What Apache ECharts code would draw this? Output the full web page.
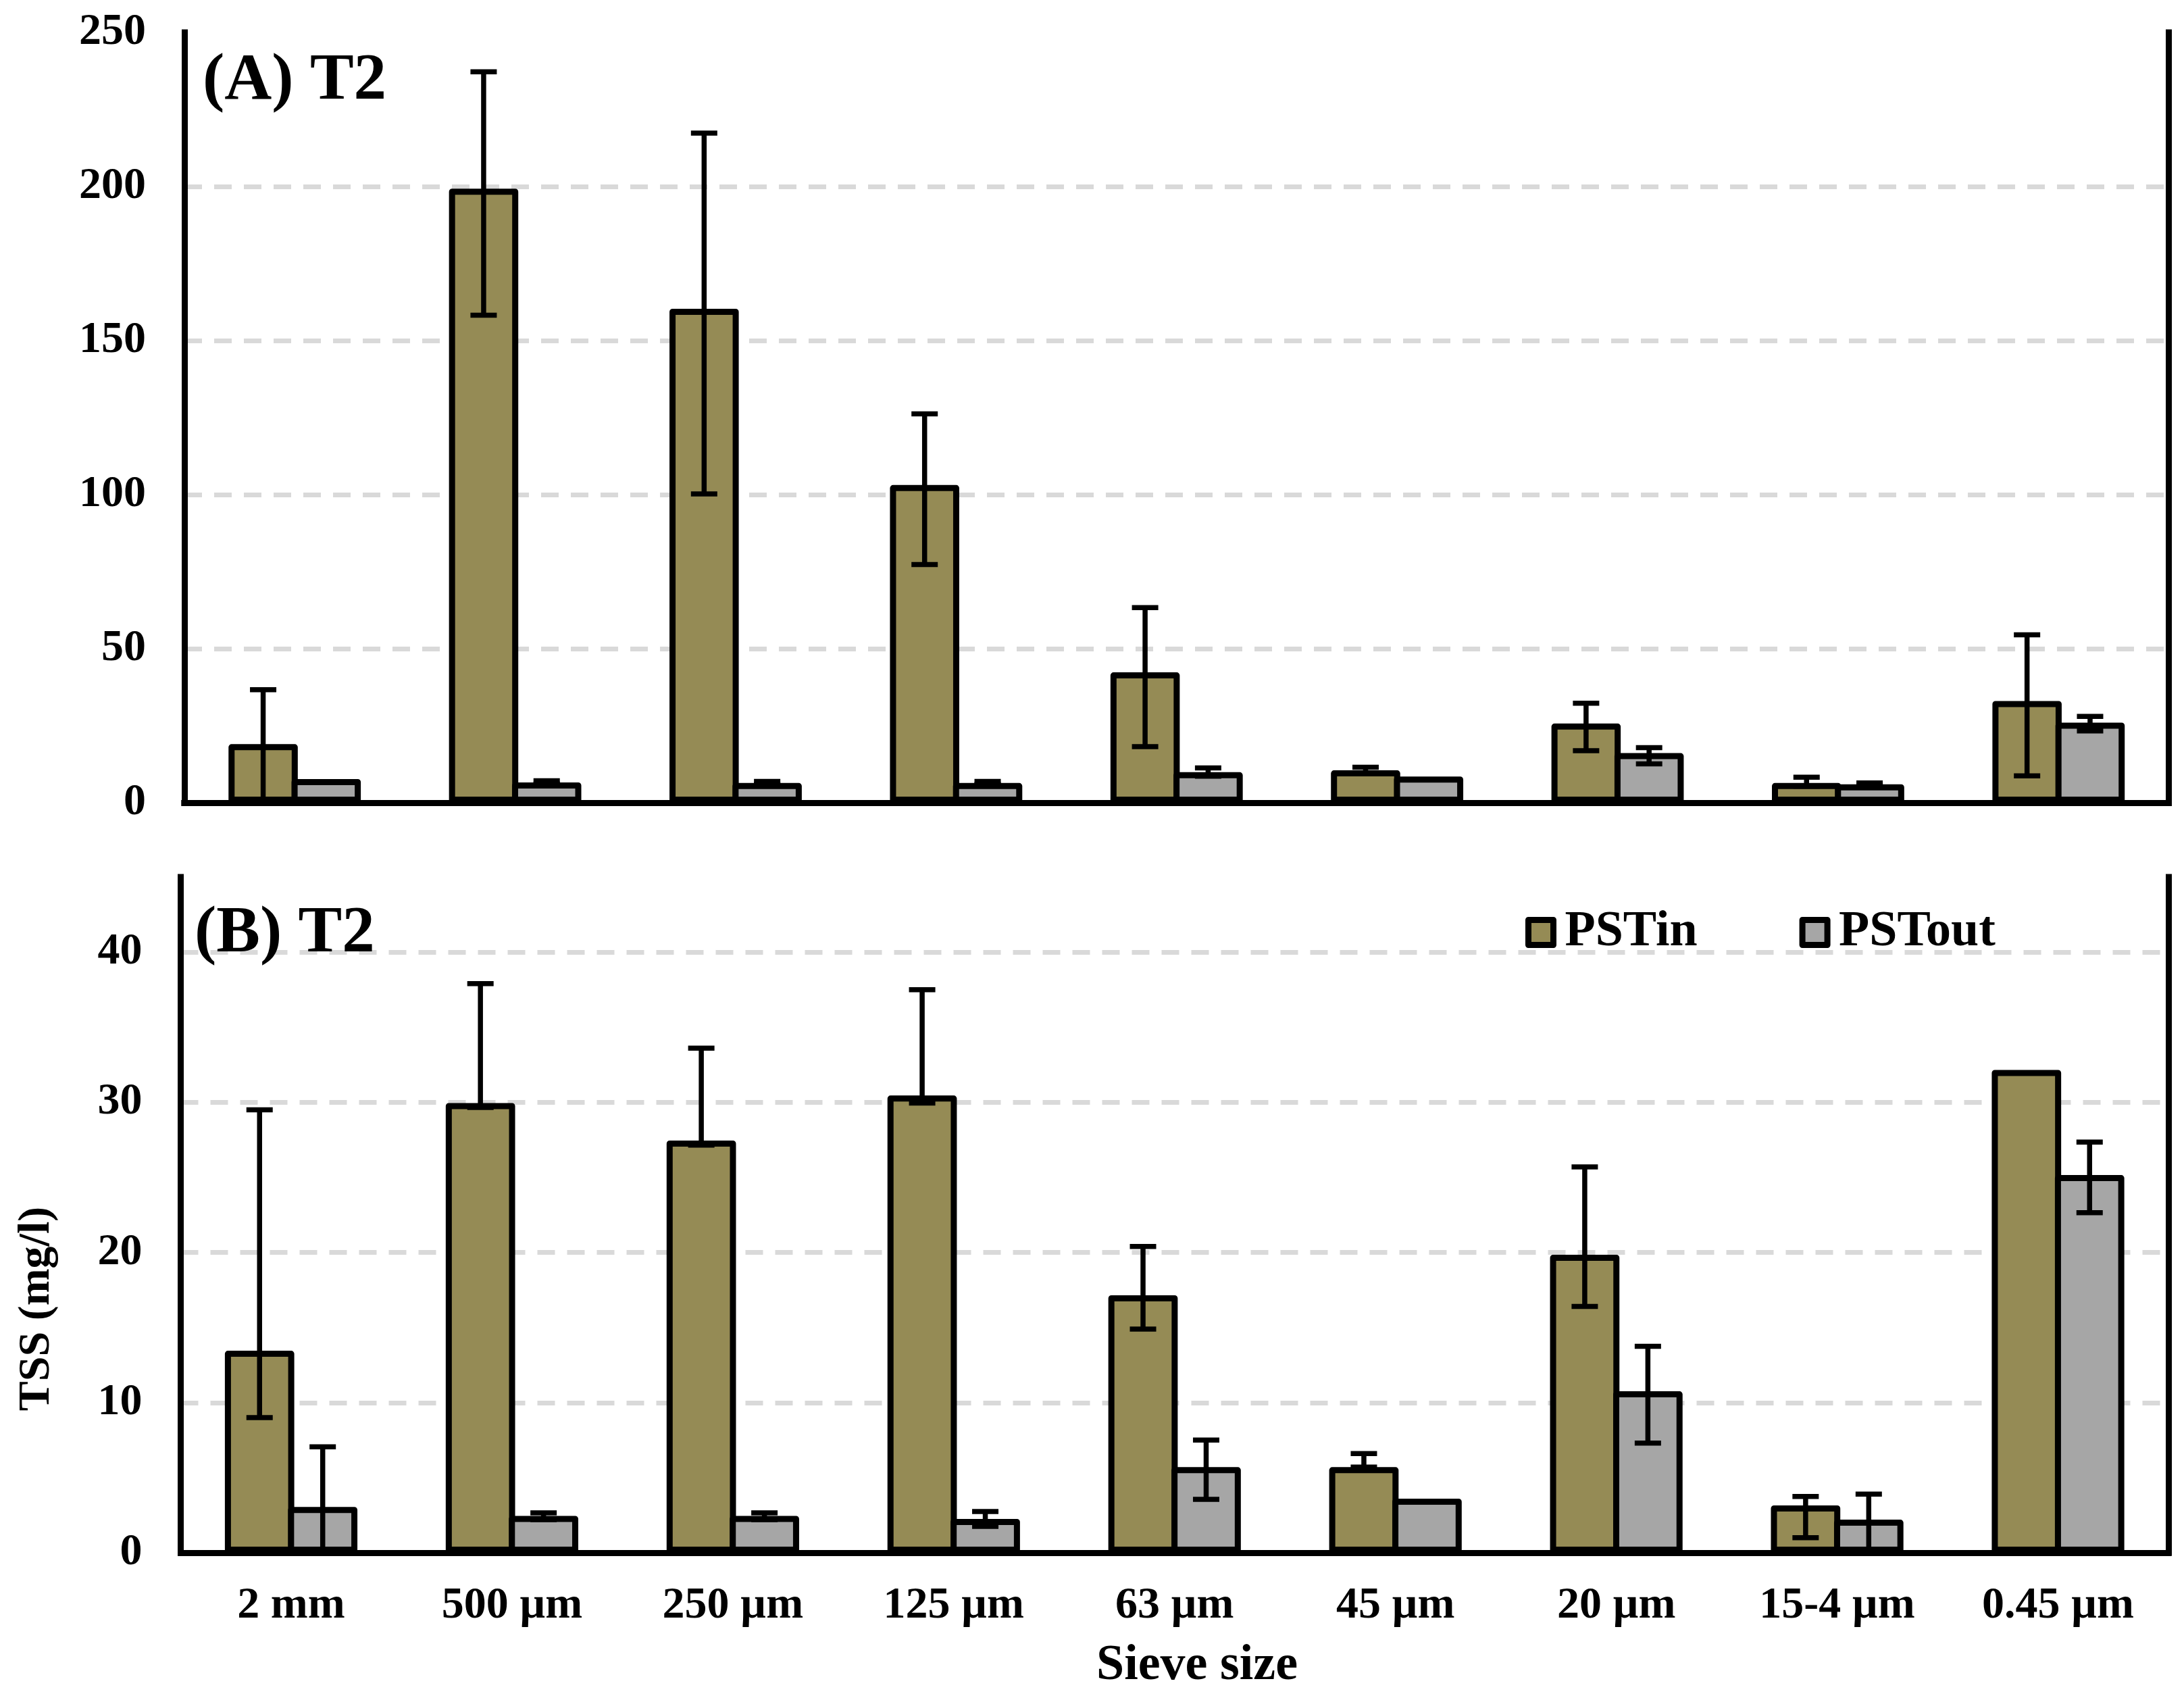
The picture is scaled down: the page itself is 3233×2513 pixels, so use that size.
<!DOCTYPE html>
<html>
<head>
<meta charset="utf-8">
<script src="https://cdn.jsdelivr.net/npm/echarts@6/dist/echarts.min.js"></script>
<style>
html,body{margin:0;padding:0;background:#fff;}
#chart{width:3233px;height:2513px;}
</style>
</head>
<body>
<div id="chart"></div>
<script>
// ---- data ----
var categories = ['2 mm', '500 µm', '250 µm', '125 µm', '63 µm', '45 µm', '20 µm', '15-4 µm', '0.45 µm'];
var seriesNames = ['PSTin', 'PSTout'];

// Panel (A) T2
var aIn      = [19.0, 199.3, 160.3, 103.1, 42.3, 10.5, 25.7, 6.4, 33.0];
var aInLow   = [0, 158.2, 100.2, 77.3, 18.2, 9.5, 16.9, 5.4, 8.7];
var aInHigh  = [36.7, 237.2, 217.3, 126.2, 63.3, 11.5, 32.3, 8.3, 54.5];
var aOut     = [7.7, 6.6, 6.4, 6.4, 9.9, 8.5, 16.1, 6.0, 26.0];
var aOutLow  = [null, 6.1, 5.9, 5.9, 8.6, null, 12.6, 5.7, 23.3];
var aOutHigh = [null, 7.1, 6.9, 6.9, 11.3, null, 17.9, 6.4, 28.0];

// Panel (B) T2
var bIn      = [13.45, 29.95, 27.45, 30.45, 17.15, 5.7, 19.85, 3.15, 32.15];
var bInLow   = [9.0, 29.65, 27.15, 29.95, 14.9, 5.7, 16.4, 1.0, null];
var bInHigh  = [29.5, 37.9, 33.6, 37.5, 20.4, 6.6, 25.7, 3.75, null];
var bOut     = [3.05, 2.45, 2.45, 2.25, 5.7, 3.6, 10.75, 2.2, 25.15];
var bOutLow  = [0, 2.2, 2.2, 1.75, 3.55, null, 7.3, 0.15, 22.65];
var bOutHigh = [7.05, 2.65, 2.65, 2.75, 7.5, null, 13.75, 3.9, 27.35];

var yTicksA = {min: 0, max: 250, interval: 50};
var yTicksB = {min: 0, max: 45, interval: 10};

// ---- styles ----
var FONT = 'Liberation Serif';
var colIn = '#958B55';
var colOut = '#A6A6A6';
var catGap = 0.40;
var barGapRatio = -0.09;

function errData(low, high) {
  var d = [];
  for (var i = 0; i < low.length; i++) {
    if (low[i] != null && high[i] != null) d.push([i, low[i], high[i]]);
  }
  return d;
}

function errRender(sign) {
  return function (params, api) {
    var i = api.value(0);
    var lo = api.value(1), hi = api.value(2);
    var bw = api.size([1, 0])[0];
    var w = bw * (1 - catGap) / (2 + barGapRatio);
    var off = sign * w * (1 + barGapRatio) / 2;
    var pLo = api.coord([i, lo]);
    var pHi = api.coord([i, hi]);
    var x = pLo[0] + off;
    var hw = 19.5;
    var st = {stroke: '#000', lineWidth: 7.5, fill: null};
    return {
      type: 'group',
      children: [
        {type: 'line', shape: {x1: x, y1: pHi[1], x2: x, y2: pLo[1]}, style: st},
        {type: 'line', shape: {x1: x - hw, y1: pHi[1], x2: x + hw, y2: pHi[1]}, style: st},
        {type: 'line', shape: {x1: x - hw, y1: pLo[1], x2: x + hw, y2: pLo[1]}, style: st}
      ]
    };
  };
}

function barSeries(name, data, color, xi) {
  return {
    name: name, type: 'bar', data: data,
    xAxisIndex: xi, yAxisIndex: xi,
    barGap: (barGapRatio * 100) + '%', barCategoryGap: (catGap * 100) + '%',
    itemStyle: {color: color, borderColor: '#000', borderWidth: 9, borderJoin: 'round'},
    z: 2
  };
}

function errSeries(low, high, sign, xi) {
  return {
    type: 'custom', xAxisIndex: xi, yAxisIndex: xi,
    data: errData(low, high),
    encode: {x: 0, y: [1, 2]},
    renderItem: errRender(sign),
    silent: true, z: 4
  };
}

var labelFont = {fontFamily: FONT, fontWeight: 'bold', color: '#000'};
var splitDash = {show: true, showMinLine: false, showMaxLine: false,
                 lineStyle: {color: '#D9D9D9', width: 7, type: [26, 18]}};
var frameLine = {show: true, lineStyle: {color: '#000', width: 9, cap: 'square'}};

function frameX(gi) {
  return {type: 'category', gridIndex: gi, data: categories, position: 'top', z: 6,
          axisLine: frameLine, axisTick: {show: false}, axisLabel: {show: false}, splitLine: {show: false}};
}
function frameY(gi, pos, t) {
  return {type: 'value', gridIndex: gi, position: pos, min: t.min, max: t.max, interval: t.interval, z: 6,
          axisLine: frameLine, axisTick: {show: false}, axisLabel: {show: false}, splitLine: {show: false}};
}

var option = {
  backgroundColor: '#fff',
  animation: false,
  textStyle: {fontFamily: FONT},
  grid: [
    {left: 273, right: 22.5, top: 48, height: 1140, show: false},
    {left: 267.5, right: 23, top: 1298, height: 1000, show: false}
  ],
  legend: {
    data: seriesNames,
    left: 2258, top: 1343, padding: 0,
    icon: 'rect', itemWidth: 37, itemHeight: 37, itemGap: 151,
    itemStyle: {borderColor: '#000', borderWidth: 9},
    textStyle: Object.assign({fontSize: 74, lineHeight: 74, padding: [0, 0, 0, 12]}, labelFont)
  },
  xAxis: [
    {type: 'category', gridIndex: 0, data: categories, z: 6,
     axisLine: frameLine, axisTick: {show: false}, axisLabel: {show: false}},
    {type: 'category', gridIndex: 1, data: categories, z: 6,
     axisLine: {show: true, lineStyle: {color: '#878787', width: 8}},
     axisTick: {show: false},
     axisLabel: Object.assign({fontSize: 66, lineHeight: 66, margin: 46, interval: 0}, labelFont)},
    frameX(0),
    frameX(1)
  ],
  yAxis: [
    {type: 'value', gridIndex: 0, min: yTicksA.min, max: yTicksA.max, interval: yTicksA.interval,
     axisLine: {show: false}, axisTick: {show: false}, splitLine: splitDash,
     axisLabel: Object.assign({fontSize: 66, margin: 57}, labelFont)},
    {type: 'value', gridIndex: 1, min: yTicksB.min, max: yTicksB.max, interval: yTicksB.interval,
     axisLine: {show: false}, axisTick: {show: false}, splitLine: splitDash,
     axisLabel: Object.assign({fontSize: 66, margin: 57, showMaxLabel: false}, labelFont)},
    frameY(0, 'left', yTicksA),
    frameY(0, 'right', yTicksA),
    frameY(1, 'left', yTicksB),
    frameY(1, 'right', yTicksB)
  ],
  series: [
    barSeries('PSTin', aIn, colIn, 0),
    barSeries('PSTout', aOut, colOut, 0),
    errSeries(aInLow, aInHigh, -1, 0),
    errSeries(aOutLow, aOutHigh, 1, 0),
    barSeries('PSTin', bIn, colIn, 1),
    barSeries('PSTout', bOut, colOut, 1),
    errSeries(bInLow, bInHigh, -1, 1),
    errSeries(bOutLow, bOutHigh, 1, 1)
  ],
  graphic: [
    {type: 'text', left: 300, top: 72, z: 10,
     style: {text: '(A) T2', font: 'bold 97px "Liberation Serif"', fill: '#000'}},
    {type: 'text', left: 288, top: 1334, z: 10,
     style: {text: '(B) T2', font: 'bold 97px "Liberation Serif"', fill: '#000'}},
    {type: 'text', x: 55, y: 1937, rotation: Math.PI / 2, z: 10,
     style: {text: 'TSS (mg/l)', font: 'bold 66px "Liberation Serif"', fill: '#000', align: 'center', verticalAlign: 'middle'}},
    {type: 'text', x: 1772, y: 2466, z: 10,
     style: {text: 'Sieve size', font: 'bold 74px "Liberation Serif"', fill: '#000', align: 'center', verticalAlign: 'middle'}}
  ]
};

var chart = echarts.init(document.getElementById('chart'));
chart.setOption(option);
</script>
</body>
</html>
